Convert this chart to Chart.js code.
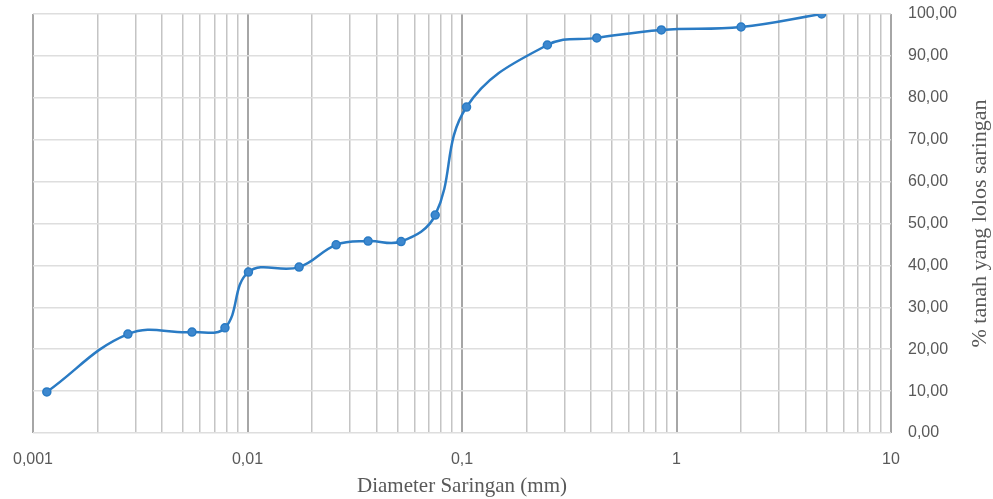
<!DOCTYPE html>
<html>
<head>
<meta charset="utf-8">
<script src="https://cdn.jsdelivr.net/npm/chart.js@4/dist/chart.umd.min.js"></script>
<style>
  html, body { margin: 0; padding: 0; background: #ffffff; }
  #wrap { width: 993px; height: 499px; }
</style>
</head>
<body>
<div id="wrap"><canvas id="c" width="993" height="499"></canvas></div>
<script>
// Data
const diameters = [0.00116, 0.00277, 0.00551, 0.00785, 0.0101, 0.0174, 0.0259, 0.0365, 0.052, 0.075, 0.105, 0.25, 0.425, 0.85, 2.0, 4.75];
const percentPassing = [9.8, 23.6, 24.1, 25.1, 38.4, 39.6, 44.9, 45.8, 45.7, 52.0, 77.8, 92.6, 94.3, 96.2, 96.9, 100.0];
const xDecades = [0.001, 0.01, 0.1, 1, 10];
const yTicks = [0, 10, 20, 30, 40, 50, 60, 70, 80, 90, 100];
const xTitle = 'Diameter Saringan (mm)';
const yTitle = '% tanah yang lolos saringan';

const points = diameters.map((d, i) => ({ x: d, y: percentPassing[i] }));

function isDecade(v) {
  return xDecades.some(d => Math.abs(v - d) / d < 1e-6);
}

const rightTitle = {
  id: 'rightTitle',
  afterDraw(chart) {
    const ctx = chart.ctx;
    const area = chart.chartArea;
    ctx.save();
    ctx.translate(980, (area.top + area.bottom) / 2);
    ctx.rotate(-Math.PI / 2);
    ctx.font = '22px "Liberation Serif", "Times New Roman", serif';
    ctx.fillStyle = '#595959';
    ctx.textAlign = 'center';
    ctx.textBaseline = 'middle';
    ctx.fillText(yTitle, 0, 0);
    ctx.restore();
  }
};

new Chart(document.getElementById('c'), {
  type: 'scatter',
  data: {
    datasets: [{
      data: points,
      showLine: true,
      tension: 0.4,
      borderColor: '#2a7bc4',
      borderWidth: 2.5,
      pointRadius: 4,
      pointBackgroundColor: '#3d88cf',
      pointBorderColor: '#2a7bc4',
      pointBorderWidth: 1.5,
      fill: false
    }]
  },
  options: {
    responsive: false,
    animation: false,
    layout: { padding: { left: 33, top: 14, right: 0, bottom: 0 } },
    plugins: { legend: { display: false }, tooltip: { enabled: false } },
    scales: {
      x: {
        type: 'logarithmic',
        min: 0.001,
        max: 10,
        afterBuildTicks(scale) {
          const t = [];
          for (let e = -3; e <= 0; e++) {
            for (let m = 1; m <= 9; m++) {
              t.push({ value: parseFloat((m * Math.pow(10, e)).toPrecision(6)) });
            }
          }
          t.push({ value: 10 });
          scale.ticks = t;
        },
        afterFit(scale) {
          scale.height = 66;
          scale.paddingLeft = 0;
          scale.paddingRight = 0;
        },
        ticks: {
          autoSkip: false,
          maxRotation: 0,
          padding: 17,
          color: '#595959',
          font: { family: '"Liberation Sans", Arial, sans-serif', size: 16 },
          callback(v) {
            return isDecade(v) ? String(v).replace('.', ',') : '';
          }
        },
        grid: {
          drawTicks: false,
          color(ctx) {
            const v = ctx.tick && ctx.tick.value;
            return isDecade(v) ? '#a6a6a6' : '#c4c4c4';
          },
          lineWidth(ctx) {
            const v = ctx.tick && ctx.tick.value;
            return isDecade(v) ? 2 : 1.5;
          }
        },
        border: { display: false },
        title: {
          display: true,
          text: xTitle,
          color: '#595959',
          padding: { top: 0, bottom: 0 },
          font: { family: '"Liberation Serif", "Times New Roman", serif', size: 21 }
        }
      },
      y: {
        position: 'right',
        min: 0,
        max: 100,
        afterBuildTicks(scale) {
          scale.ticks = yTicks.map(v => ({ value: v }));
        },
        afterFit(scale) {
          scale.width = 102;
          scale.paddingTop = 0;
          scale.paddingBottom = 0;
        },
        ticks: {
          padding: 17,
          color: '#595959',
          font: { family: '"Liberation Sans", Arial, sans-serif', size: 16 },
          callback(v) { return v.toFixed(2).replace('.', ','); }
        },
        grid: {
          drawTicks: false,
          color: '#dedede',
          lineWidth: 1.5
        },
        border: { display: false }
      }
    }
  },
  plugins: [rightTitle]
});
</script>
</body>
</html>
